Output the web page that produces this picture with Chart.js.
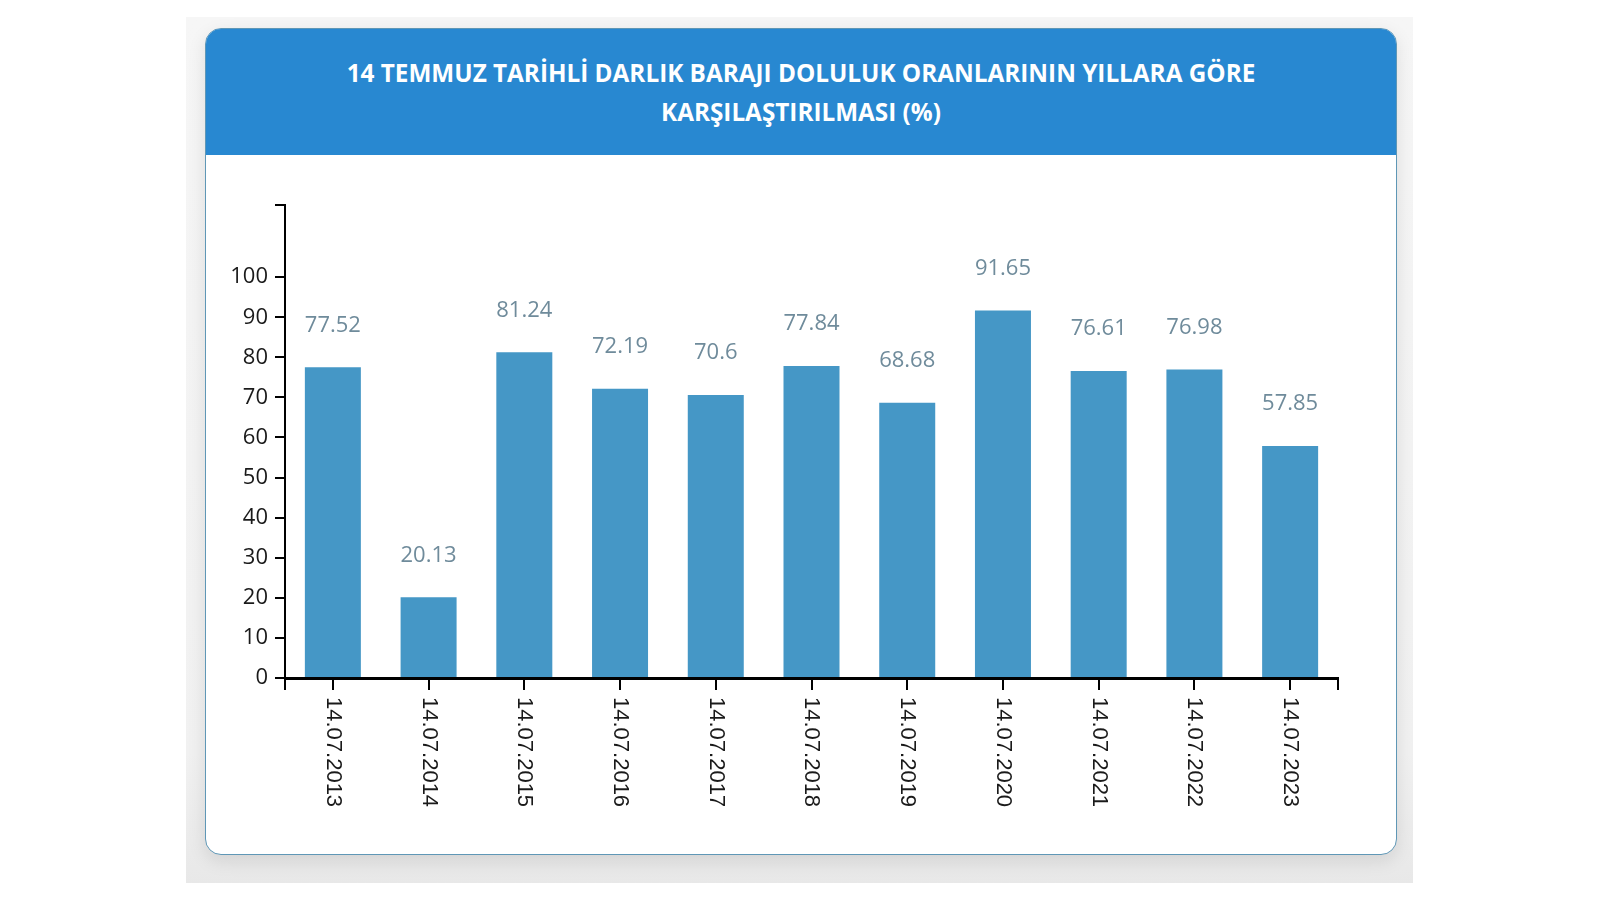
<!DOCTYPE html>
<html>
<head>
<meta charset="utf-8">
<script src="https://cdn.jsdelivr.net/npm/chart.js@4/dist/chart.umd.min.js"></script>
<style>
  body { margin: 0; background: #fff; width: 1600px; height: 900px; position: relative; overflow: hidden; }
  .panel { position: absolute; left: 186px; top: 17px; width: 1227px; height: 866px;
           background: linear-gradient(#f6f6f6, #f1f1f1 85%, #e8e8e8); }
  .card { position: absolute; left: 205px; top: 28px; width: 1192px; height: 827px; box-sizing: border-box;
          background: #fff; border: 1.5px solid #5f97b6; border-radius: 16px; overflow: hidden;
          box-shadow: 0 6px 18px rgba(0,0,0,0.10); }
  .head { position: absolute; left: 0; top: 0; right: 0; height: 126px; background: #2888d1;
          color: #fff; font-family: "Open Sans", sans-serif; font-weight: 700; font-size: 24.3px;
          line-height: 39px; text-align: center; display: flex; align-items: center; justify-content: center; }
  .box { position: absolute; left: 205px; top: 155px; width: 1192px; height: 700px; }
</style>
</head>
<body>
<div class="panel"></div>
<div class="card">
  <div class="head"><div>14 TEMMUZ TARİHLİ DARLIK BARAJI DOLULUK ORANLARININ YILLARA GÖRE<br>KARŞILAŞTIRILMASI (%)</div></div>
</div>
<div class="box"><canvas id="darlikChart" width="1192" height="700"></canvas></div>
<script>
const dates = ["14.07.2013", "14.07.2014", "14.07.2015", "14.07.2016", "14.07.2017", "14.07.2018",
               "14.07.2019", "14.07.2020", "14.07.2021", "14.07.2022", "14.07.2023"];
const fillRates = [77.52, 20.13, 81.24, 72.19, 70.6, 77.84, 68.68, 91.65, 76.61, 76.98, 57.85];
const yTicks = [0, 10, 20, 30, 40, 50, 60, 70, 80, 90, 100];
const yMax = 118;

// value labels above the bars + rotated date labels + axis end ticks
const decorPlugin = {
    id: "decor",
    afterDatasetsDraw(chart) {
        const ctx = chart.ctx;
        const meta = chart.getDatasetMeta(0);
        ctx.save();
        ctx.font = "22px 'Open Sans'";
        ctx.fillStyle = "#6f8b9b";
        ctx.textAlign = "center";
        ctx.textBaseline = "middle";
        meta.data.forEach((bar, i) => {
            ctx.fillText(String(fillRates[i]), bar.x, bar.y - 42);
        });
        ctx.restore();
    },
    afterDraw(chart) {
        const ctx = chart.ctx;
        const area = chart.chartArea;
        const xScale = chart.scales.x;
        ctx.save();
        ctx.strokeStyle = "#000";
        ctx.lineWidth = 2;
        [area.left, area.right].forEach((x) => {
            ctx.beginPath();
            ctx.moveTo(x, area.bottom);
            ctx.lineTo(x, area.bottom + 12);
            ctx.stroke();
        });
        ctx.font = "22px 'Liberation Sans', Arial";
        ctx.fillStyle = "#1a1a1a";
        ctx.textAlign = "left";
        ctx.textBaseline = "middle";
        dates.forEach((d, i) => {
            const x = xScale.getPixelForTick(i);
            ctx.save();
            ctx.translate(x, area.bottom + 19);
            ctx.rotate(Math.PI / 2);
            ctx.fillText(d, 0, 0);
            ctx.restore();
        });
        ctx.restore();
    },
};

const ctx = document.getElementById("darlikChart").getContext("2d");
new Chart(ctx, {
    type: "bar",
    data: {
        labels: dates,
        datasets: [
            {
                data: fillRates,
                backgroundColor: "#4597c6",
                barPercentage: 0.585,
                categoryPercentage: 1,
            },
        ],
    },
    options: {
        responsive: false,
        animation: false,
        devicePixelRatio: 1,
        layout: { padding: { top: 50, right: 59, left: 0, bottom: 0 } },
        plugins: {
            legend: { display: false },
            tooltip: { enabled: false },
        },
        scales: {
            x: {
                offset: true,
                afterFit: (scale) => { scale.height = 177; },
                grid: { drawOnChartArea: false, offset: false, tickLength: 12, lineWidth: 2, color: "#000" },
                border: { display: true, color: "#000", width: 3 },
                ticks: { display: false },
            },
            y: {
                min: 0,
                max: yMax,
                afterFit: (scale) => { scale.width = 80; },
                afterBuildTicks: (scale) => {
                    scale.ticks = yTicks.concat([yMax]).map((v) => ({ value: v }));
                },
                grid: { drawOnChartArea: false, tickLength: 10, lineWidth: 2, color: "#000" },
                border: { display: true, color: "#000", width: 2 },
                ticks: {
                    padding: 7,
                    color: "#1a1a1a",
                    font: { family: "'Open Sans'", size: 22 },
                    callback: (value) => (value > 100 ? "" : value),
                },
            },
        },
    },
    plugins: [decorPlugin],
});
</script>
</body>
</html>
